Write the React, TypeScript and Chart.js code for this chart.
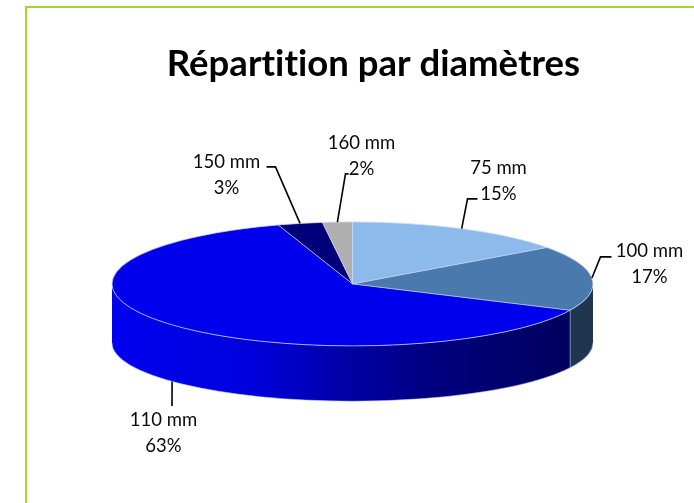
import React, { useEffect, useRef } from "react";
import { Chart, registerables } from "chart.js";

Chart.register(...registerables);

const categories = ["75 mm", "100 mm", "110 mm", "150 mm", "160 mm"];
const shares = [15, 17, 63, 3, 2];
const sliceColors = ["#8CBBEB", "#4A79AE", "#0000EC", "#00007A", "#B0B0B0"];
const wallColors = ["#5F83AD", "#20364F", "#0000D0", "#000060", "#808080"];
const titleText = "Répartition par diamètres";

// Label placement: centre of the text block and elbow of the leader, relative to the pie centre.
const labelPlacement = [
  { tx: 146, ty: -103, from: [125, -85], elbow: [115, -85], wall: false },
  { tx: 297, ty: -20, from: [259, -27], elbow: [248, -27], wall: false },
  { tx: -189, ty: 149, from: [-180.5, 122], elbow: null, wall: true },
  { tx: -126, ty: -109, from: [-86, -117], elbow: [-77, -117], wall: false },
  { tx: 9, ty: -128, from: [-4, -110], elbow: [-7, -110], wall: false },
];

const SQUASH = 62 / 240.5;
const DEPTH = 59;
const LOWER_RY = 0.94;
const FONT = '18.5px Lato, "Open Sans", sans-serif';

const pie3d = {
  id: "pie3d",
  afterLayout(chart: any) {
    const t = chart.titleBlock;
    if (t) {
      t.left += 21;
      t.right += 21;
    }
  },
  beforeDraw(chart: any) {
    const { ctx, width, height } = chart;
    ctx.letterSpacing = "0.01px";
    ctx.save();
    ctx.strokeStyle = "#A6D62B";
    ctx.lineWidth = 2;
    ctx.beginPath();
    ctx.moveTo(width + 2, 7);
    ctx.lineTo(26, 7);
    ctx.lineTo(26, height + 2);
    ctx.stroke();
    ctx.restore();
  },
  beforeDatasetsDraw(chart: any) {
    const { ctx } = chart;
    const arcs = chart.getDatasetMeta(0).data;
    const { x, y, outerRadius: r } = arcs[0];
    const ry = r * SQUASH;
    const lowerRy = ry * LOWER_RY;

    // Wall of the visible (front) half of the disc, left-right shaded for the big slice.
    arcs.forEach((arc: any, i: number) => {
      const a0 = Math.max(arc.startAngle, 0);
      const a1 = Math.min(arc.endAngle, Math.PI);
      if (a1 <= a0) return;
      ctx.save();
      ctx.beginPath();
      ctx.ellipse(x, y, r, ry, 0, a0, a1);
      ctx.ellipse(x, y + DEPTH, r, lowerRy, 0, a1, a0, true);
      ctx.closePath();
      if (i === 2) {
        const g = ctx.createLinearGradient(x - r, 0, x + r * 0.91, 0);
        g.addColorStop(0, "#0000EE");
        g.addColorStop(0.3, "#0000DE");
        g.addColorStop(0.5, "#0000A8");
        g.addColorStop(0.7, "#000080");
        g.addColorStop(1, "#00005C");
        ctx.fillStyle = g;
      } else {
        ctx.fillStyle = wallColors[i];
      }
      ctx.fill();
      ctx.restore();
    });

    // Light seam where the 100 mm and 110 mm walls meet, and the wall's lower edge.
    ctx.save();
    ctx.strokeStyle = "rgba(190,200,235,0.55)";
    ctx.lineWidth = 1;
    ctx.beginPath();
    ctx.ellipse(x, y + DEPTH, r, lowerRy, 0, 0, Math.PI);
    ctx.stroke();
    const seam = arcs[1].endAngle;
    const sx = x + r * Math.cos(seam);
    const sy = y + ry * Math.sin(seam);
    ctx.beginPath();
    ctx.moveTo(sx, sy);
    ctx.lineTo(sx, y + DEPTH + lowerRy * Math.sin(seam));
    ctx.stroke();
    ctx.restore();

    // Squash the library's own arcs into the perspective ellipse.
    ctx.save();
    ctx.translate(x, y);
    ctx.scale(1, SQUASH);
    ctx.translate(-x, -y);
  },
  afterDatasetsDraw(chart: any) {
    const { ctx } = chart;
    ctx.restore();

    const arcs = chart.getDatasetMeta(0).data;
    const { x, y, outerRadius: r } = arcs[0];
    const ry = r * SQUASH;
    const lowerRy = ry * LOWER_RY;

    // Thin light edges on the top face.
    ctx.save();
    ctx.strokeStyle = "rgba(205,215,245,0.75)";
    ctx.lineWidth = 1;
    ctx.beginPath();
    ctx.ellipse(x, y, r, ry, 0, 0, Math.PI * 2);
    ctx.stroke();
    arcs.forEach((arc: any) => {
      ctx.beginPath();
      ctx.moveTo(x, y);
      ctx.lineTo(x + r * Math.cos(arc.startAngle), y + ry * Math.sin(arc.startAngle));
      ctx.stroke();
    });
    ctx.restore();

    // Data labels with leaders.
    ctx.save();
    ctx.font = FONT;
    ctx.fillStyle = "#0A0A0A";
    ctx.textAlign = "center";
    ctx.textBaseline = "middle";
    ctx.strokeStyle = "#000000";
    ctx.lineWidth = 1.6;
    arcs.forEach((arc: any, i: number) => {
      const p = labelPlacement[i];
      const mid = (arc.startAngle + arc.endAngle) / 2;
      const ex = x + r * Math.cos(mid);
      const ey = p.wall ? y + DEPTH + lowerRy * Math.sin(mid) : y + ry * Math.sin(mid);
      ctx.beginPath();
      ctx.moveTo(x + p.from[0], y + p.from[1]);
      if (p.elbow) ctx.lineTo(x + p.elbow[0], y + p.elbow[1]);
      ctx.lineTo(ex, ey);
      ctx.stroke();
      ctx.fillText(categories[i], x + p.tx, y + p.ty - 13);
      ctx.fillText(shares[i] + "%", x + p.tx, y + p.ty + 13);
    });
    ctx.restore();
  },
};

export default function App() {
  const ref = useRef<HTMLCanvasElement | null>(null);

  useEffect(() => {
    document.body.style.margin = "0";
    document.body.style.background = "#ffffff";
    const chart = new Chart(ref.current as HTMLCanvasElement, {
      type: "pie",
      data: {
        labels: categories,
        datasets: [
          {
            data: shares,
            backgroundColor: sliceColors,
            borderWidth: 0,
            radius: 240.5,
            clip: false,
          } as any,
        ],
      },
      options: {
        responsive: false,
        animation: false,
        events: [],
        layout: { padding: { left: 11, right: 0, top: 0, bottom: 21 } },
        plugins: {
          legend: { display: false },
          tooltip: { enabled: false },
          title: {
            display: true,
            text: titleText,
            color: "#000000",
            font: { family: 'Lato, "Open Sans", sans-serif', size: 36.5, weight: "bold", lineHeight: 1.2 },
            padding: { top: 42, bottom: 0 },
          },
        },
      },
      plugins: [pie3d],
    });
    return () => chart.destroy();
  }, []);

  return <canvas ref={ref} width={694} height={503} style={{ display: "block" }} />;
}
